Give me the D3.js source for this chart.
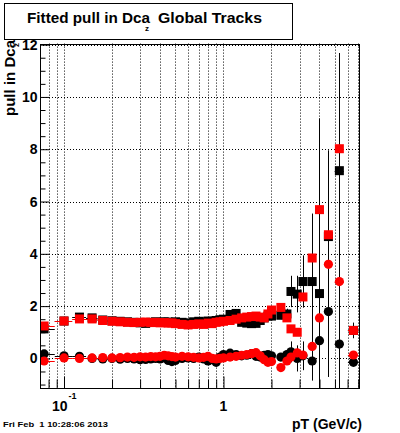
<!DOCTYPE html>
<html>
<head>
<meta charset="utf-8">
<script src="https://cdn.jsdelivr.net/npm/d3@7"></script>
<style>
body { margin:0; background:#fff; }
text { font-family: "Liberation Sans", Arial, Helvetica, sans-serif; font-weight: bold; fill:#000; }
</style>
</head>
<body>
<script>
// pT bin centres (GeV/c) and half widths
var ptBins = [0.075, 0.1, 0.125, 0.15, 0.175, 0.2, 0.225, 0.25, 0.275, 0.3, 0.325, 0.35, 0.375, 0.4, 0.425, 0.45, 0.475, 0.5,
  0.55, 0.6, 0.65, 0.7, 0.75, 0.8, 0.85, 0.9, 0.95, 1.0,
  1.1, 1.2, 1.3, 1.4, 1.5, 1.6, 1.7, 1.8, 1.9, 2.0,
  2.29, 2.5, 2.65, 2.9, 3.15, 3.6, 4.0, 4.55, 5.33, 6.53];
var ptHalfWidth = [0.0125, 0.0125, 0.0125, 0.0125, 0.0125, 0.0125, 0.0125, 0.0125, 0.0125, 0.0125, 0.0125, 0.0125, 0.0125, 0.0125, 0.0125, 0.0125, 0.0125, 0.0125,
  0.025, 0.025, 0.025, 0.025, 0.025, 0.025, 0.025, 0.025, 0.025, 0.025,
  0.05, 0.05, 0.05, 0.05, 0.05, 0.05, 0.05, 0.05, 0.05, 0.05,
  0.1, 0.1, 0.1, 0.12, 0.12, 0.2, 0.2, 0.25, 0.35, 0.5];

// black squares: pull width
var blackSigma = [1.13, 1.43, 1.58, 1.55, 1.47, 1.44, 1.42, 1.40, 1.38, 1.36, 1.34, 1.38, 1.40, 1.38, 1.40, 1.39, 1.37, 1.40,
  1.38, 1.36, 1.40, 1.42, 1.40, 1.43, 1.42, 1.45, 1.48, 1.50,
  1.68, 1.72, 1.38, 1.35, 1.33, 1.34, 1.45, 1.55, 1.62, 1.62,
  1.65, 1.70, 2.56, 2.46, 2.94, 2.94, 2.48, 4.66, 7.18, 1.07];
var blackSigmaErr = [0.05, 0.04, 0.03, 0.03, 0.03, 0.03, 0.03, 0.03, 0.03, 0.03, 0.03, 0.03, 0.03, 0.03, 0.03, 0.03, 0.03, 0.03,
  0.03, 0.03, 0.03, 0.03, 0.03, 0.03, 0.03, 0.03, 0.03, 0.03,
  0.04, 0.04, 0.05, 0.05, 0.05, 0.06, 0.06, 0.08, 0.08, 0.1,
  0.15, 0.2, 0.6, 0.7, 1.0, 2.6, 6.7, 3.3, 4.5, 0.3];

// red squares: pull width
var redSigma = [1.24, 1.43, 1.51, 1.51, 1.45, 1.42, 1.40, 1.38, 1.37, 1.38, 1.39, 1.37, 1.38, 1.36, 1.37, 1.35, 1.36, 1.33,
  1.30, 1.28, 1.30, 1.32, 1.30, 1.35, 1.33, 1.38, 1.40, 1.42,
  1.45, 1.50, 1.55, 1.58, 1.60, 1.62, 1.58, 1.55, 1.70, 1.85,
  1.95, 1.55, 1.13, 1.00, 2.35, 3.84, 5.69, 4.73, 8.02, 1.07];
var redSigmaErr = [0.04, 0.03, 0.03, 0.03, 0.03, 0.03, 0.03, 0.03, 0.03, 0.03, 0.03, 0.03, 0.03, 0.03, 0.03, 0.03, 0.03, 0.03,
  0.03, 0.03, 0.03, 0.03, 0.03, 0.03, 0.03, 0.03, 0.03, 0.03,
  0.03, 0.03, 0.04, 0.04, 0.04, 0.05, 0.05, 0.05, 0.06, 0.06,
  0.08, 0.08, 0.1, 0.1, 0.12, 0.12, 0.15, 0.15, 0.15, 0.1];

// black circles: pull mean
var blackMean = [0.17, 0.10, 0.08, 0.00, -0.02, 0.00, -0.03, 0.00, -0.02, -0.05, -0.04, -0.02, 0.00, -0.02, 0.02, -0.08, -0.12, -0.08,
  0.00, 0.02, 0.00, 0.05, -0.02, -0.10, -0.05, -0.15, 0.05, 0.15,
  0.20, 0.15, 0.10, 0.12, 0.18, 0.08, 0.05, 0.12, 0.15, 0.10,
  0.05, 0.15, 0.25, 0.00, 0.10, -0.10, 0.68, 1.79, 0.55, -0.15];
var blackMeanErr = [0.04, 0.03, 0.03, 0.03, 0.03, 0.03, 0.03, 0.03, 0.03, 0.03, 0.03, 0.03, 0.03, 0.03, 0.03, 0.03, 0.03, 0.03,
  0.03, 0.03, 0.03, 0.03, 0.03, 0.03, 0.03, 0.03, 0.03, 0.03,
  0.04, 0.04, 0.04, 0.05, 0.05, 0.05, 0.06, 0.06, 0.08, 0.08,
  0.1, 0.15, 0.4, 0.5, 0.55, 0.75, 1.5, 2.5, 3.0, 0.1];

// red circles: pull mean
var redMean = [-0.10, 0.02, 0.00, 0.02, 0.03, 0.02, 0.03, 0.05, 0.04, 0.06, 0.05, 0.07, 0.06, 0.08, 0.12, 0.10, 0.07, 0.05,
  0.08, 0.06, 0.04, 0.02, 0.04, 0.08, 0.00, -0.02, 0.00, 0.02,
  0.05, 0.08, 0.12, 0.15, 0.18, 0.22, 0.10, -0.05, -0.15, -0.12,
  -0.35, -0.10, 0.05, 0.21, 0.13, 0.46, 1.55, 3.60, 2.94, 0.13];
var redMeanErr = [0.03, 0.03, 0.03, 0.03, 0.03, 0.03, 0.03, 0.03, 0.03, 0.03, 0.03, 0.03, 0.03, 0.03, 0.03, 0.03, 0.03, 0.03,
  0.03, 0.03, 0.03, 0.03, 0.03, 0.03, 0.03, 0.03, 0.03, 0.03,
  0.03, 0.03, 0.03, 0.04, 0.04, 0.04, 0.05, 0.05, 0.05, 0.05,
  0.06, 0.06, 0.08, 0.08, 0.1, 0.1, 0.12, 0.12, 0.12, 0.08];

// axis ticks
var xLabelTicks = [0.1, 1];
var xMinorTicks = [0.08, 0.09, 0.2, 0.3, 0.4, 0.5, 0.6, 0.7, 0.8, 0.9, 2, 3, 4, 5, 6, 7];
var yMajorTicks = [0, 2, 4, 6, 8, 10, 12];
var yMinorTicks = [-1, -0.5, 0.5, 1, 1.5, 2.5, 3, 3.5, 4.5, 5, 5.5, 6.5, 7, 7.5, 8.5, 9, 9.5, 10.5, 11, 11.5];

var width = 400;
var height = 433;
var frame = {left:40, right:360, top:43.6, bottom:389};

var svg = d3.select("body").append("svg")
  .attr("width", width)
  .attr("height", height);

var xScale = d3.scaleLog()
  .domain([0.0707, 7.18])
  .range([frame.left, frame.right]);

var yScale = d3.scaleLinear()
  .domain([-1.17, 12.04])
  .range([frame.bottom, frame.top]);

var snap = function(v) { return Math.round(v) + 0.5; };

svg.append("defs").append("clipPath").attr("id", "frameClip")
  .append("rect")
  .attr("x", frame.left)
  .attr("y", frame.top)
  .attr("width", frame.right - frame.left)
  .attr("height", frame.bottom - frame.top);

// grid
var grid = svg.append("g")
  .attr("stroke", "#000")
  .attr("stroke-width", 1)
  .attr("stroke-dasharray", "1,2");
xLabelTicks.concat(xMinorTicks).forEach(function(t){
  grid.append("line")
    .attr("x1", snap(xScale(t))).attr("x2", snap(xScale(t)))
    .attr("y1", frame.top).attr("y2", frame.bottom);
});
yMajorTicks.forEach(function(t){
  grid.append("line")
    .attr("x1", frame.left).attr("x2", frame.right)
    .attr("y1", snap(yScale(t))).attr("y2", snap(yScale(t)));
});

// axes, ticks pointing into the frame
var yAxis = svg.append("g")
  .attr("transform", "translate(" + (frame.left + 0.5) + ",0)")
  .call(d3.axisLeft(yScale).tickValues(yMajorTicks).tickSize(-9).tickPadding(3).tickFormat(d3.format("d")));
yAxis.select(".domain").remove();
yAxis.selectAll("text").attr("font-size", 14).attr("font-family", null);

var yMinor = svg.append("g")
  .attr("transform", "translate(" + (frame.left + 0.5) + ",0)")
  .call(d3.axisLeft(yScale).tickValues(yMinorTicks).tickSize(-5).tickFormat(""));
yMinor.select(".domain").remove();

var xAxis = svg.append("g")
  .attr("transform", "translate(0," + (frame.bottom - 0.5) + ")")
  .call(d3.axisBottom(xScale).tickValues(xLabelTicks).tickSize(-12).tickFormat(""));
xAxis.select(".domain").remove();
var xMinor = svg.append("g")
  .attr("transform", "translate(0," + (frame.bottom - 0.5) + ")")
  .call(d3.axisBottom(xScale).tickValues(xMinorTicks).tickSize(-9).tickFormat(""));
xMinor.select(".domain").remove();

// x labels with exponent
var lab1 = svg.append("text")
  .attr("x", xScale(0.1) - 12)
  .attr("y", 411)
  .attr("font-size", 14);
lab1.append("tspan").text("10");
lab1.append("tspan").attr("font-size", 9).attr("dy", -12).attr("dx", 1).text("-1");
svg.append("text")
  .attr("x", xScale(1))
  .attr("y", 411)
  .attr("text-anchor", "middle")
  .attr("font-size", 14)
  .text("1");

// data
var plot = svg.append("g").attr("clip-path", "url(#frameClip)");

var drawSeries = function(vals, errs, color, shape)
{
  var g = plot.append("g");
  ptBins.forEach(function(pt, i){
    var cx = xScale(pt);
    var cy = yScale(vals[i]);
    g.append("line")
      .attr("x1", snap(cx)).attr("x2", snap(cx))
      .attr("y1", yScale(vals[i] - errs[i])).attr("y2", yScale(vals[i] + errs[i]))
      .attr("stroke", color).attr("stroke-width", 1);
    g.append("line")
      .attr("x1", xScale(pt - ptHalfWidth[i])).attr("x2", xScale(pt + ptHalfWidth[i]))
      .attr("y1", snap(cy)).attr("y2", snap(cy))
      .attr("stroke", color).attr("stroke-width", 1);
  });
  ptBins.forEach(function(pt, i){
    var cx = xScale(pt);
    var cy = yScale(vals[i]);
    if (shape == "square")
    {
      g.append("rect")
        .attr("x", cx - 4.5).attr("y", cy - 4.5)
        .attr("width", 9).attr("height", 9)
        .attr("fill", color);
    }
    else {
      g.append("circle")
        .attr("cx", cx).attr("cy", cy)
        .attr("r", 4.6)
        .attr("fill", color);
    }
  });
};

drawSeries(blackSigma, blackSigmaErr, "#000", "square");
drawSeries(blackMean, blackMeanErr, "#000", "circle");
drawSeries(redSigma, redSigmaErr, "#ff0000", "square");
drawSeries(redMean, redMeanErr, "#ff0000", "circle");

// frame
svg.append("rect")
  .attr("x", frame.left + 0.5)
  .attr("y", Math.round(frame.top) + 0.5)
  .attr("width", frame.right - frame.left - 1)
  .attr("height", frame.bottom - Math.round(frame.top) - 1)
  .attr("fill", "none")
  .attr("stroke", "#000");

// title box
svg.append("rect")
  .attr("x", 4.5).attr("y", 3.5)
  .attr("width", 288).attr("height", 36)
  .attr("fill", "#fff").attr("stroke", "#000");
svg.append("text")
  .attr("x", 27).attr("y", 22.5)
  .attr("font-size", 15)
  .attr("textLength", 123).attr("lengthAdjust", "spacingAndGlyphs")
  .text("Fitted pull in Dca");
svg.append("text")
  .attr("x", 147).attr("y", 31)
  .attr("font-size", 8)
  .attr("text-anchor", "middle")
  .text("z");
svg.append("text")
  .attr("x", 158).attr("y", 22.5)
  .attr("font-size", 15)
  .attr("textLength", 104).attr("lengthAdjust", "spacingAndGlyphs")
  .text("Global Tracks");

// axis titles
svg.append("text")
  .attr("transform", "translate(15,116) rotate(-90)")
  .attr("font-size", 14)
  .attr("textLength", 76).attr("lengthAdjust", "spacingAndGlyphs")
  .text("pull in Dca");
svg.append("text")
  .attr("transform", "translate(19,45) rotate(-90)")
  .attr("font-size", 8)
  .attr("text-anchor", "middle")
  .text("z");
svg.append("text")
  .attr("x", 362).attr("y", 429)
  .attr("font-size", 14)
  .attr("text-anchor", "end")
  .text("pT (GeV/c)");

// date stamp
svg.append("text")
  .attr("x", 3).attr("y", 427)
  .attr("font-size", 8)
  .attr("textLength", 105).attr("lengthAdjust", "spacingAndGlyphs")
  .style("white-space", "pre")
  .text("Fri Feb  1 10:28:06 2013");
</script>
</body>
</html>
